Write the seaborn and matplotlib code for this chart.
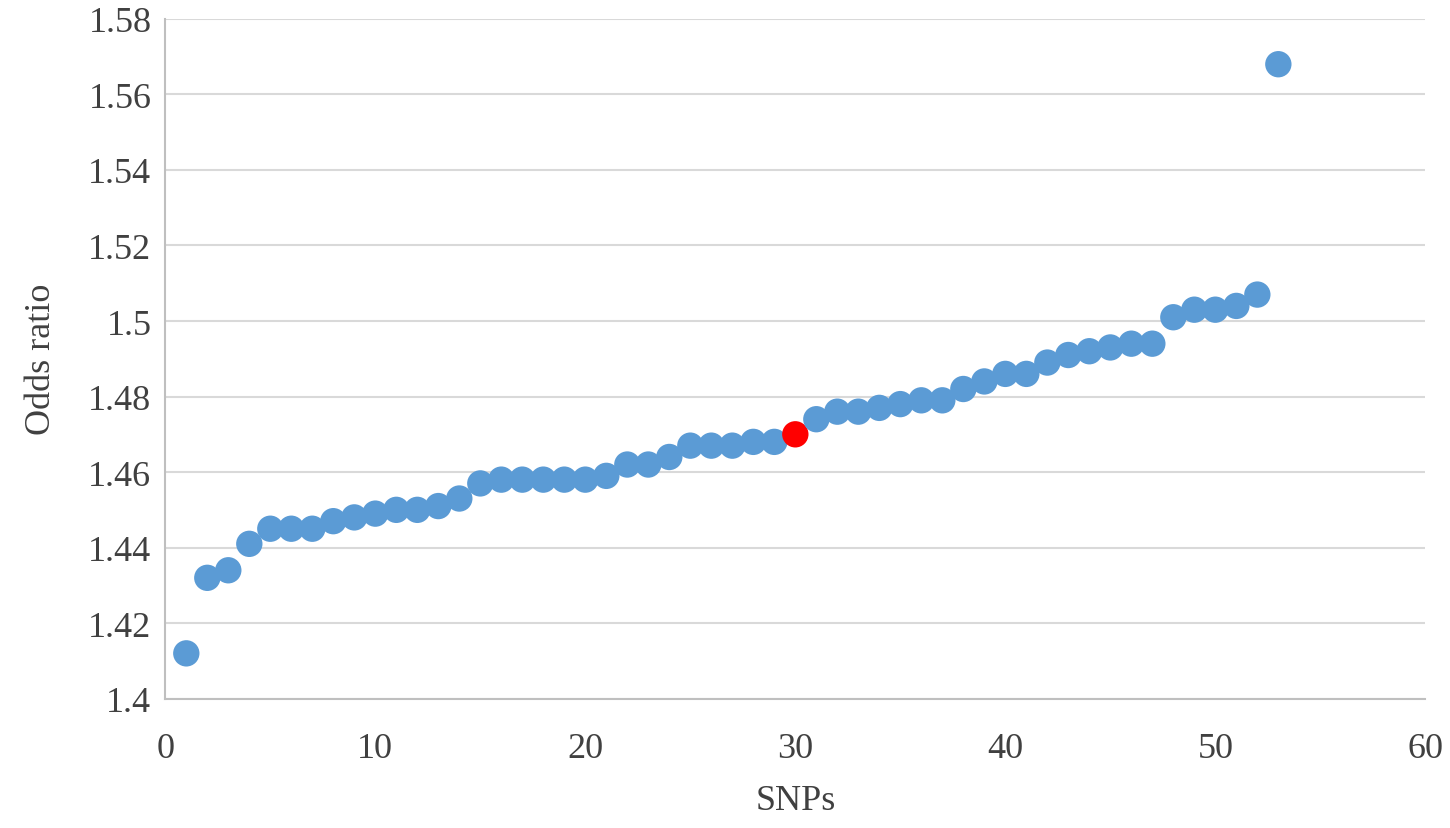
import pandas as pd
import matplotlib
matplotlib.use('Agg')
import matplotlib.pyplot as plt
import seaborn as sns

# SNP index and odds ratio
snps = list(range(1, 54))
odds_ratio = [1.412, 1.432, 1.434, 1.441, 1.445, 1.445, 1.445, 1.447, 1.448, 1.449,
              1.450, 1.450, 1.451, 1.453, 1.457, 1.458, 1.458, 1.458, 1.458, 1.458,
              1.459, 1.462, 1.462, 1.464, 1.467, 1.467, 1.467, 1.468, 1.468, 1.470,
              1.474, 1.476, 1.476, 1.477, 1.478, 1.479, 1.479, 1.482, 1.484, 1.486,
              1.486, 1.489, 1.491, 1.492, 1.493, 1.494, 1.494, 1.501, 1.503, 1.503,
              1.504, 1.507, 1.568]
highlight_snp = 30

x_ticks = [0, 10, 20, 30, 40, 50, 60]
y_ticks = [1.4, 1.42, 1.44, 1.46, 1.48, 1.5, 1.52, 1.54, 1.56, 1.58]
y_tick_labels = ['1.4', '1.42', '1.44', '1.46', '1.48', '1.5', '1.52', '1.54', '1.56', '1.58']

df = pd.DataFrame({'SNPs': snps, 'Odds ratio': odds_ratio})
df['group'] = ['highlight' if s == highlight_snp else 'normal' for s in df['SNPs']]

sns.set_style('white')
plt.rcParams['font.family'] = ['Liberation Serif', 'DejaVu Serif']

fig = plt.figure(figsize=(14.5, 8.29), dpi=100)
ax = fig.add_axes([0.114, 0.156, 0.869, 0.82])

sns.scatterplot(data=df, x='SNPs', y='Odds ratio', hue='group',
                palette={'normal': '#5B9BD5', 'highlight': '#FF0000'},
                s=360, edgecolor='none', legend=False, ax=ax, zorder=3)

ax.set_xlim(0, 60)
ax.set_ylim(1.4, 1.58)
ax.set_xticks(x_ticks)
ax.set_yticks(y_ticks)
ax.set_yticklabels(y_tick_labels)
ax.yaxis.grid(True, color='#D9D9D9', linewidth=1.5)
ax.set_axisbelow(True)

for side in ['top', 'right']:
    ax.spines[side].set_visible(False)
for side in ['left', 'bottom']:
    ax.spines[side].set_color('#BFBFBF')
    ax.spines[side].set_linewidth(1.5)

ax.tick_params(axis='both', labelsize=26, colors='#404040', length=0)
ax.tick_params(axis='x', pad=24)
ax.tick_params(axis='y', pad=10)
ax.set_xlabel('SNPs', fontsize=26, color='#404040', labelpad=14)
ax.set_ylabel('Odds ratio', fontsize=26, color='#404040', labelpad=22)

fig.savefig('out.png', dpi=100)
